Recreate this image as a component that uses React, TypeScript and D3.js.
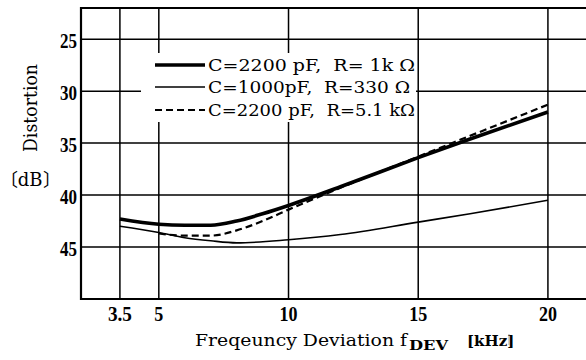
import { useRef, useEffect } from 'react'
import * as d3 from 'd3'

// frequency deviation (kHz) / distortion (dB)
const thickX = [3.5, 5, 6, 7, 8, 9, 10, 12, 15, 17, 20]
const thickY = [42.3, 42.8, 42.9, 42.9, 42.5, 41.8, 41.0, 39.2, 36.4, 34.6, 32.0]
const thinX = [3.5, 5, 6, 7, 8, 10, 12, 15, 17, 20]
const thinY = [43.0, 43.6, 44.1, 44.4, 44.6, 44.3, 43.8, 42.6, 41.8, 40.5]
const dashX = [5, 6, 7, 8, 9, 10, 12, 15, 17, 20]
const dashY = [43.7, 43.9, 43.9, 43.4, 42.5, 41.4, 39.3, 36.3, 34.3, 31.3]

const xTicks = [3.5, 5, 10, 15, 20]
const yTicks = [25, 30, 35, 40, 45]
const legendLabels = ['C=2200 pF,  R= 1k \u03A9', 'C=1000pF,  R=330 \u03A9', 'C=2200 pF,  R=5.1 k\u03A9']

const TICKFONT = '"Liberation Serif", "Times New Roman", serif'
const FONT = '"DejaVu Serif", serif'

export default function App() {
  const svgRef = useRef<SVGSVGElement>(null)

  useEffect(() => {
    if (!svgRef.current) return
    const svg = d3.select(svgRef.current)
    svg.selectAll('*').remove()

    const width = 586
    const left = 81, top = 8, bottom = 299

    const x = d3.scaleLinear().domain([2, 22]).range([left, left + 20 * 25.94])
    const y = d3.scaleLinear().domain([22, 50]).range([top, bottom])

    // gridlines
    svg.append('g').selectAll('line').data(xTicks).join('line')
      .attr('x1', d => x(d)).attr('x2', d => x(d))
      .attr('y1', top).attr('y2', bottom)
      .attr('stroke', '#000').attr('stroke-width', 1.5)
    svg.append('g').selectAll('line').data(yTicks).join('line')
      .attr('x1', left).attr('x2', width)
      .attr('y1', d => y(d)).attr('y2', d => y(d))
      .attr('stroke', '#000').attr('stroke-width', 1.5)

    // frame
    svg.append('path')
      .attr('d', `M${width + 5},${top}H${left}V${bottom}H${width + 5}`)
      .attr('fill', 'none').attr('stroke', '#000').attr('stroke-width', 2.2)

    // tick labels (tall, condensed bold)
    svg.append('g').selectAll('text').data(yTicks).join('text')
      .attr('x', left - 4).attr('y', d => y(d) + 9)
      .attr('text-anchor', 'end')
      .attr('textLength', 17).attr('lengthAdjust', 'spacingAndGlyphs')
      .style('font-family', TICKFONT).style('font-weight', 'bold').style('font-size', '22px')
      .text(d => d)
    svg.append('g').selectAll('text').data(xTicks).join('text')
      .attr('x', d => x(d)).attr('y', 321)
      .attr('text-anchor', 'middle')
      .attr('textLength', d => String(d).length === 1 ? 9 : (String(d).includes('.') ? 24 : 18))
      .attr('lengthAdjust', 'spacingAndGlyphs')
      .style('font-family', TICKFONT).style('font-weight', 'bold').style('font-size', '21px')
      .text(d => d)

    // legend box (covers the grid)
    svg.append('rect')
      .attr('x', 141).attr('y', 53).attr('width', 275).attr('height', 69)
      .attr('fill', '#fff')

    const series = [
      { xs: thickX, ys: thickY, w: 3.6, dash: null as string | null },
      { xs: thinX, ys: thinY, w: 1.6, dash: null },
      { xs: dashX, ys: dashY, w: 2.2, dash: '7,4' },
    ]
    const line = d3.line<[number, number]>()
      .x(d => x(d[0])).y(d => y(d[1]))
      .curve(d3.curveMonotoneX)

    series.forEach(s => {
      const pts = s.xs.map((v, i) => [v, s.ys[i]] as [number, number])
      svg.append('path')
        .attr('d', line(pts))
        .attr('fill', 'none').attr('stroke', '#000')
        .attr('stroke-width', s.w)
        .attr('stroke-dasharray', s.dash)
    })

    // legend
    const rowsY = [65, 87, 110]
    series.forEach((s, i) => {
      svg.append('line')
        .attr('x1', 155).attr('x2', 205)
        .attr('y1', rowsY[i]).attr('y2', rowsY[i])
        .attr('stroke', '#000').attr('stroke-width', s.w)
        .attr('stroke-dasharray', s.dash)
      svg.append('text')
        .attr('x', 208).attr('y', rowsY[i] + 6)
        .attr('textLength', i === 1 ? 202 : 207)
        .attr('lengthAdjust', 'spacingAndGlyphs')
        .style('font-family', FONT).style('font-size', '17px')
        .style('white-space', 'pre')
        .text(legendLabels[i])
    })

    // axis titles
    svg.append('text')
      .attr('transform', 'rotate(-90)')
      .attr('x', -108).attr('y', 37)
      .attr('text-anchor', 'middle')
      .attr('textLength', 88).attr('lengthAdjust', 'spacingAndGlyphs')
      .style('font-family', FONT).style('font-size', '18px')
      .text('Distortion')
    svg.append('text')
      .attr('x', 0).attr('y', 186)
      .style('font-family', '"Noto Sans CJK JP"').style('font-size', '18px')
      .text('\u3014')
    svg.append('text')
      .attr('x', 30).attr('y', 186).attr('text-anchor', 'middle')
      .style('font-family', FONT).style('font-size', '18px')
      .text('dB')
    svg.append('text')
      .attr('x', 43).attr('y', 186)
      .style('font-family', '"Noto Sans CJK JP"').style('font-size', '18px')
      .text('\u3015')

    svg.append('text')
      .attr('x', 195).attr('y', 346)
      .attr('textLength', 212).attr('lengthAdjust', 'spacingAndGlyphs')
      .style('font-family', FONT).style('font-size', '17px')
      .text('Freqeuncy Deviation f')
    svg.append('text')
      .attr('x', 409).attr('y', 350)
      .attr('textLength', 39).attr('lengthAdjust', 'spacingAndGlyphs')
      .style('font-family', FONT).style('font-weight', 'bold').style('font-size', '13px')
      .text('DEV')
    svg.append('text')
      .attr('x', 467).attr('y', 346)
      .style('font-family', FONT).style('font-weight', 'bold').style('font-size', '15px')
      .text('[kHz]')
    svg.append('line')
      .attr('x1', 509).attr('x2', 509).attr('y1', 334).attr('y2', 345)
      .attr('stroke', '#888').attr('stroke-width', 0.8)
  }, [])

  return (
    <svg ref={svgRef} width={586} height={360}
      style={{ position: 'absolute', left: 0, top: 0, background: '#fff' }} />
  )
}
